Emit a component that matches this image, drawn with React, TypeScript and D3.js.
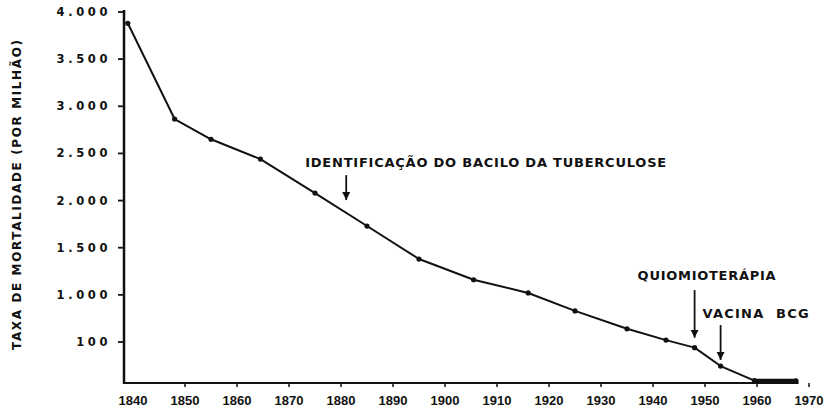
import * as React from 'react';
import * as d3 from 'd3';

// tuberculosis mortality (per million)
const years = [1839, 1848, 1855, 1864.5, 1875, 1885, 1895, 1905.5, 1916, 1925, 1935, 1942.5, 1948, 1953, 1959.5, 1967.5];
const rates = [3880, 2865, 2650, 2440, 2080, 1730, 1380, 1160, 1020, 830, 640, 520, 440, 245, 90, 88];

const yTickValues = [4000, 3500, 3000, 2500, 2000, 1500, 1000, 500];
const yTickLabels = ['4.000', '3.500', '3.000', '2.500', '2.000', '1.500', '1.000', '100'];
const xTickYears = [1840, 1850, 1860, 1870, 1880, 1890, 1900, 1910, 1920, 1930, 1940, 1950, 1960, 1970];

const noteLabels = ['IDENTIFICAÇÃO DO BACILO DA TUBERCULOSE', 'QUIOMIOTERÁPIA', 'VACINA  BCG'];
const noteYears = [1881, 1948, 1953];
const noteFrom = [2270, 1050, 680];
const noteTo = [2005, 545, 310];

const W = 826;
const H = 409;
const AXIS_X = 124;
const AXIS_Y = 383;
const INK = '#111';
const FONT = '"DejaVu Sans", Verdana, sans-serif';

// text placement relative to the arrow start
const noteLayout = [
  { dx: -41, dy: -8, len: 361 },
  { dx: -57, dy: -10, len: 138 },
  { dx: -18, dy: -7, len: 106 },
];

export default function App() {
  const x = d3.scaleLinear().domain([1840, 1970]).range([133, 809]);
  const y = d3.scaleLinear().domain([500, 4000]).range([342, 12]);

  const pts = years.map((yr, i) => ({ yr, v: rates[i] }));
  const line = d3
    .line<{ yr: number; v: number }>()
    .x((d) => x(d.yr))
    .y((d) => y(d.v));

  return (
    <svg
      width={W}
      height={H}
      viewBox={`0 0 ${W} ${H}`}
      style={{ position: 'absolute', left: 0, top: 0, background: '#fff' }}
    >
      <defs>
        <marker
          id="arrowhead"
          markerUnits="userSpaceOnUse"
          markerWidth={8}
          markerHeight={10}
          refX={8}
          refY={4}
          orient="auto"
        >
          <path d="M0,0 L8,4 L0,8 Z" fill={INK} />
        </marker>
      </defs>
      <rect width={W} height={H} fill="#fff" />

      {/* y axis */}
      <line x1={AXIS_X} x2={AXIS_X} y1={10} y2={AXIS_Y + 1} stroke={INK} strokeWidth={2.5} />
      {yTickValues.map((v, i) => (
        <g key={v}>
          <line x1={AXIS_X - 6} x2={AXIS_X} y1={y(v)} y2={y(v)} stroke={INK} strokeWidth={1.8} />
          <text
            x={111}
            y={y(v) + 4}
            textAnchor="end"
            fontFamily={FONT}
            fontWeight="bold"
            fontSize={11.5}
            letterSpacing={3.6}
            fill={INK}
          >
            {yTickLabels[i]}
          </text>
        </g>
      ))}
      <text
        transform={`translate(21,195) rotate(-90)`}
        textAnchor="middle"
        fontFamily={FONT}
        fontWeight="bold"
        fontSize={12}
        textLength={310}
        lengthAdjust="spacing"
        fill={INK}
      >
        TAXA DE MORTALIDADE (POR MILHÃO)
      </text>

      {/* x axis */}
      <line x1={AXIS_X - 1} x2={x(1968)} y1={AXIS_Y} y2={AXIS_Y} stroke={INK} strokeWidth={2.2} />
      {xTickYears.map((yr) => (
        <g key={yr}>
          {yr > 1840 && (
            <line x1={x(yr)} x2={x(yr)} y1={AXIS_Y} y2={AXIS_Y + 4} stroke={INK} strokeWidth={1.5} />
          )}
          <text
            x={x(yr)}
            y={405}
            textAnchor="middle"
            fontFamily='"Liberation Sans", Arial, sans-serif'
            fontWeight="bold"
            fontSize={13}
            fill={INK}
          >
            {yr}
          </text>
        </g>
      ))}

      {/* series */}
      <path d={line(pts) ?? ''} fill="none" stroke={INK} strokeWidth={2} strokeLinejoin="round" />
      {pts.map((d, i) => (
        <circle key={i} cx={x(d.yr)} cy={y(d.v)} r={2.6} fill={INK} />
      ))}
      <line
        x1={x(years[years.length - 2])}
        x2={x(years[years.length - 1])}
        y1={y(rates[rates.length - 2])}
        y2={y(rates[rates.length - 1])}
        stroke={INK}
        strokeWidth={4}
      />

      {/* annotations */}
      {noteLabels.map((label, i) => {
        const ax = x(noteYears[i]);
        const ay0 = y(noteFrom[i]);
        const ay1 = y(noteTo[i]);
        const lay = noteLayout[i];
        return (
          <g key={label}>
            <line x1={ax} x2={ax} y1={ay0} y2={ay1} stroke={INK} strokeWidth={1.8} markerEnd="url(#arrowhead)" />
            <text
              x={ax + lay.dx}
              y={ay0 + lay.dy}
              fontFamily={FONT}
              fontWeight="bold"
              fontSize={13}
              textLength={lay.len}
              lengthAdjust="spacing"
              fill={INK}
              style={{ whiteSpace: 'pre' }}
            >
              {label}
            </text>
          </g>
        );
      })}
    </svg>
  );
}
